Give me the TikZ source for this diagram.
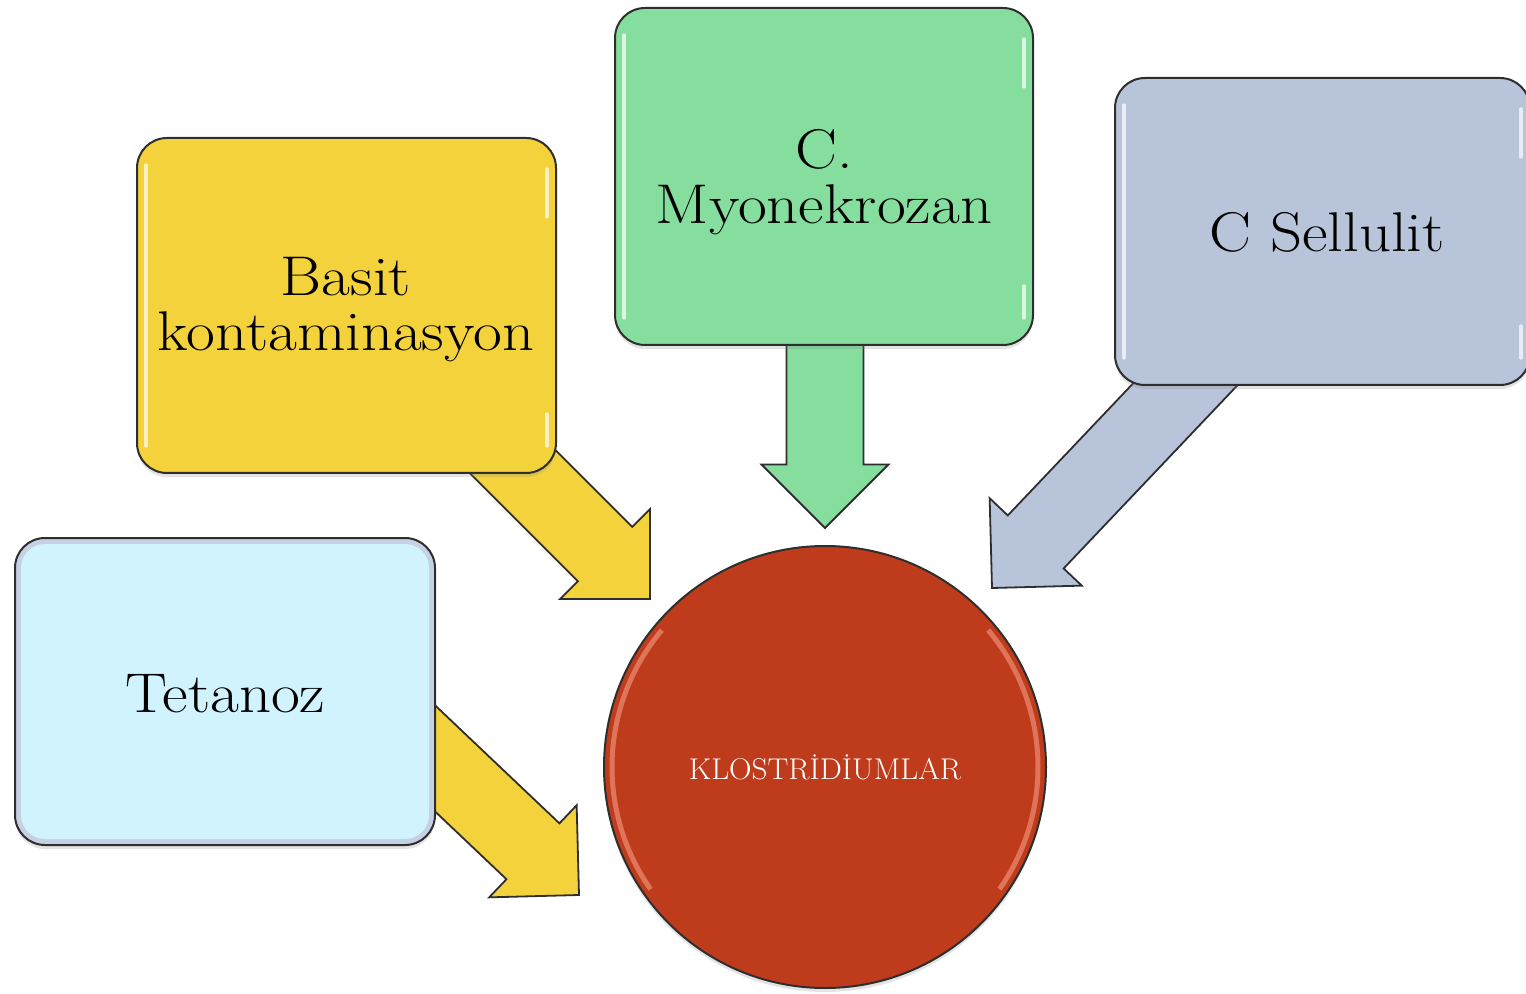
\documentclass[tikz,border=0pt]{standalone}
\usepackage{graphicx}
\usetikzlibrary{shadows}
\definecolor{cyel}{HTML}{F4D23C}
\definecolor{cgreen}{HTML}{85DE9E}
\definecolor{cgrey}{HTML}{B8C4DA}
\definecolor{ccyan}{HTML}{D0F3FD}
\definecolor{ctetedge}{HTML}{C6D0E4}
\definecolor{cred}{HTML}{BE3C1C}
\definecolor{credlight}{HTML}{E9836A}
\definecolor{cborder}{HTML}{2E2E2E}
\newcommand\wide[1]{\scalebox{1.12}[1]{#1}}
\tikzset{
  box/.style={draw=cborder, line width=1pt, rounded corners=15pt, inner sep=0pt,
    drop shadow={shadow xshift=0pt, shadow yshift=-2pt, opacity=0.22}},
  lbl/.style={font=\fontsize{28}{27.5}\selectfont, align=center, inner sep=0pt, text=black},
  barrow/.style={draw=cborder, line width=0.9pt, line join=miter},
  glossline/.style={white, line width=1.6pt, opacity=0.7, line cap=round},
}
\newcommand\blockarr[4]{%
  \begin{scope}[shift={(#1)}, rotate=#2]
    \draw[barrow, fill=#4] (0,0) -- (-63.5,63.5) -- (-63.5,38.5) -- (-#3,38.5)
      -- (-#3,-38.5) -- (-63.5,-38.5) -- (-63.5,-63.5) -- cycle;
  \end{scope}}
\newcommand\glossbox[1]{%
  \draw[glossline] ([xshift=5pt,yshift=-14pt]#1.north west) -- ([xshift=5pt,yshift=14pt]#1.south west);
  \draw[glossline] ([xshift=-5pt,yshift=-16pt]#1.north east) -- ([xshift=-5pt,yshift=-40pt]#1.north east);
  \draw[glossline] ([xshift=-5pt,yshift=30pt]#1.south east) -- ([xshift=-5pt,yshift=14pt]#1.south east);}
\begin{document}
\begin{tikzpicture}[x=0.5pt, y=-0.5pt]
\useasboundingbox (0,0) rectangle (1526,994);
\clip (0,0) rectangle (1526,994);

% arrow tips
\coordinate (tipA) at (650,599);
\coordinate (tipB) at (825,528);
\coordinate (tipC) at (992,588);
\coordinate (tipD) at (579,895);

% block arrows (drawn first, boxes cover their tails)
\blockarr{tipA}{-45}{283}{cyel}
\blockarr{tipB}{-90}{229}{cgreen}
\blockarr{tipC}{-133.5}{330}{cgrey}
\blockarr{tipD}{-43.5}{250}{cyel}

% boxes
\node[box, fill=cyel, minimum width=209.5pt, minimum height=167.5pt] (basit) at (346.5,305.5) {};
\glossbox{basit}
\node[lbl] (basittext) at (346,310) {\wide{Basit}\\\wide{kontaminasyon}};

\node[box, fill=cgreen, minimum width=209pt, minimum height=168.5pt] (myo) at (824,176.5) {};
\glossbox{myo}
\node[lbl] (myotext) at (824,182.5) {\wide{C.}\\\wide{Myonekrozan}};

\node[box, fill=cgrey, minimum width=207.5pt, minimum height=153.5pt] (sell) at (1322.5,231.5) {};
\glossbox{sell}
\node[lbl, anchor=base] (selltext) at (1327,252) {\wide{C Sellulit}};

\node[box, fill=ctetedge, minimum width=210pt, minimum height=153.5pt] (tet) at (225,691.5) {};
\node[fill=ccyan, rounded corners=12pt, inner sep=0pt, minimum width=204pt, minimum height=147.5pt] (tetin) at (tet.center) {};
\node[lbl, anchor=base] (tettext) at (225.5,712) {\wide{Tetanoz}};

% central circle
\node[circle, draw=cborder, line width=1pt, fill=cred, minimum size=221pt, inner sep=0pt,
  drop shadow={shadow xshift=0pt, shadow yshift=-2pt, opacity=0.22}] (klos) at (825,767) {};
\draw[credlight, line width=2.5pt, opacity=0.8] (klos.center) ++(145:213) arc[start angle=145, end angle=220, radius=213];
\draw[credlight, line width=2.5pt, opacity=0.8] (klos.center) ++(-40:213) arc[start angle=-40, end angle=35, radius=213];
\node[anchor=base, text=white, font=\fontsize{15}{16}\selectfont, inner sep=0pt] (klostext) at (825,779) {\scalebox{1.04}[1]{KLOSTRİDİUMLAR}};
\end{tikzpicture}
\end{document}
